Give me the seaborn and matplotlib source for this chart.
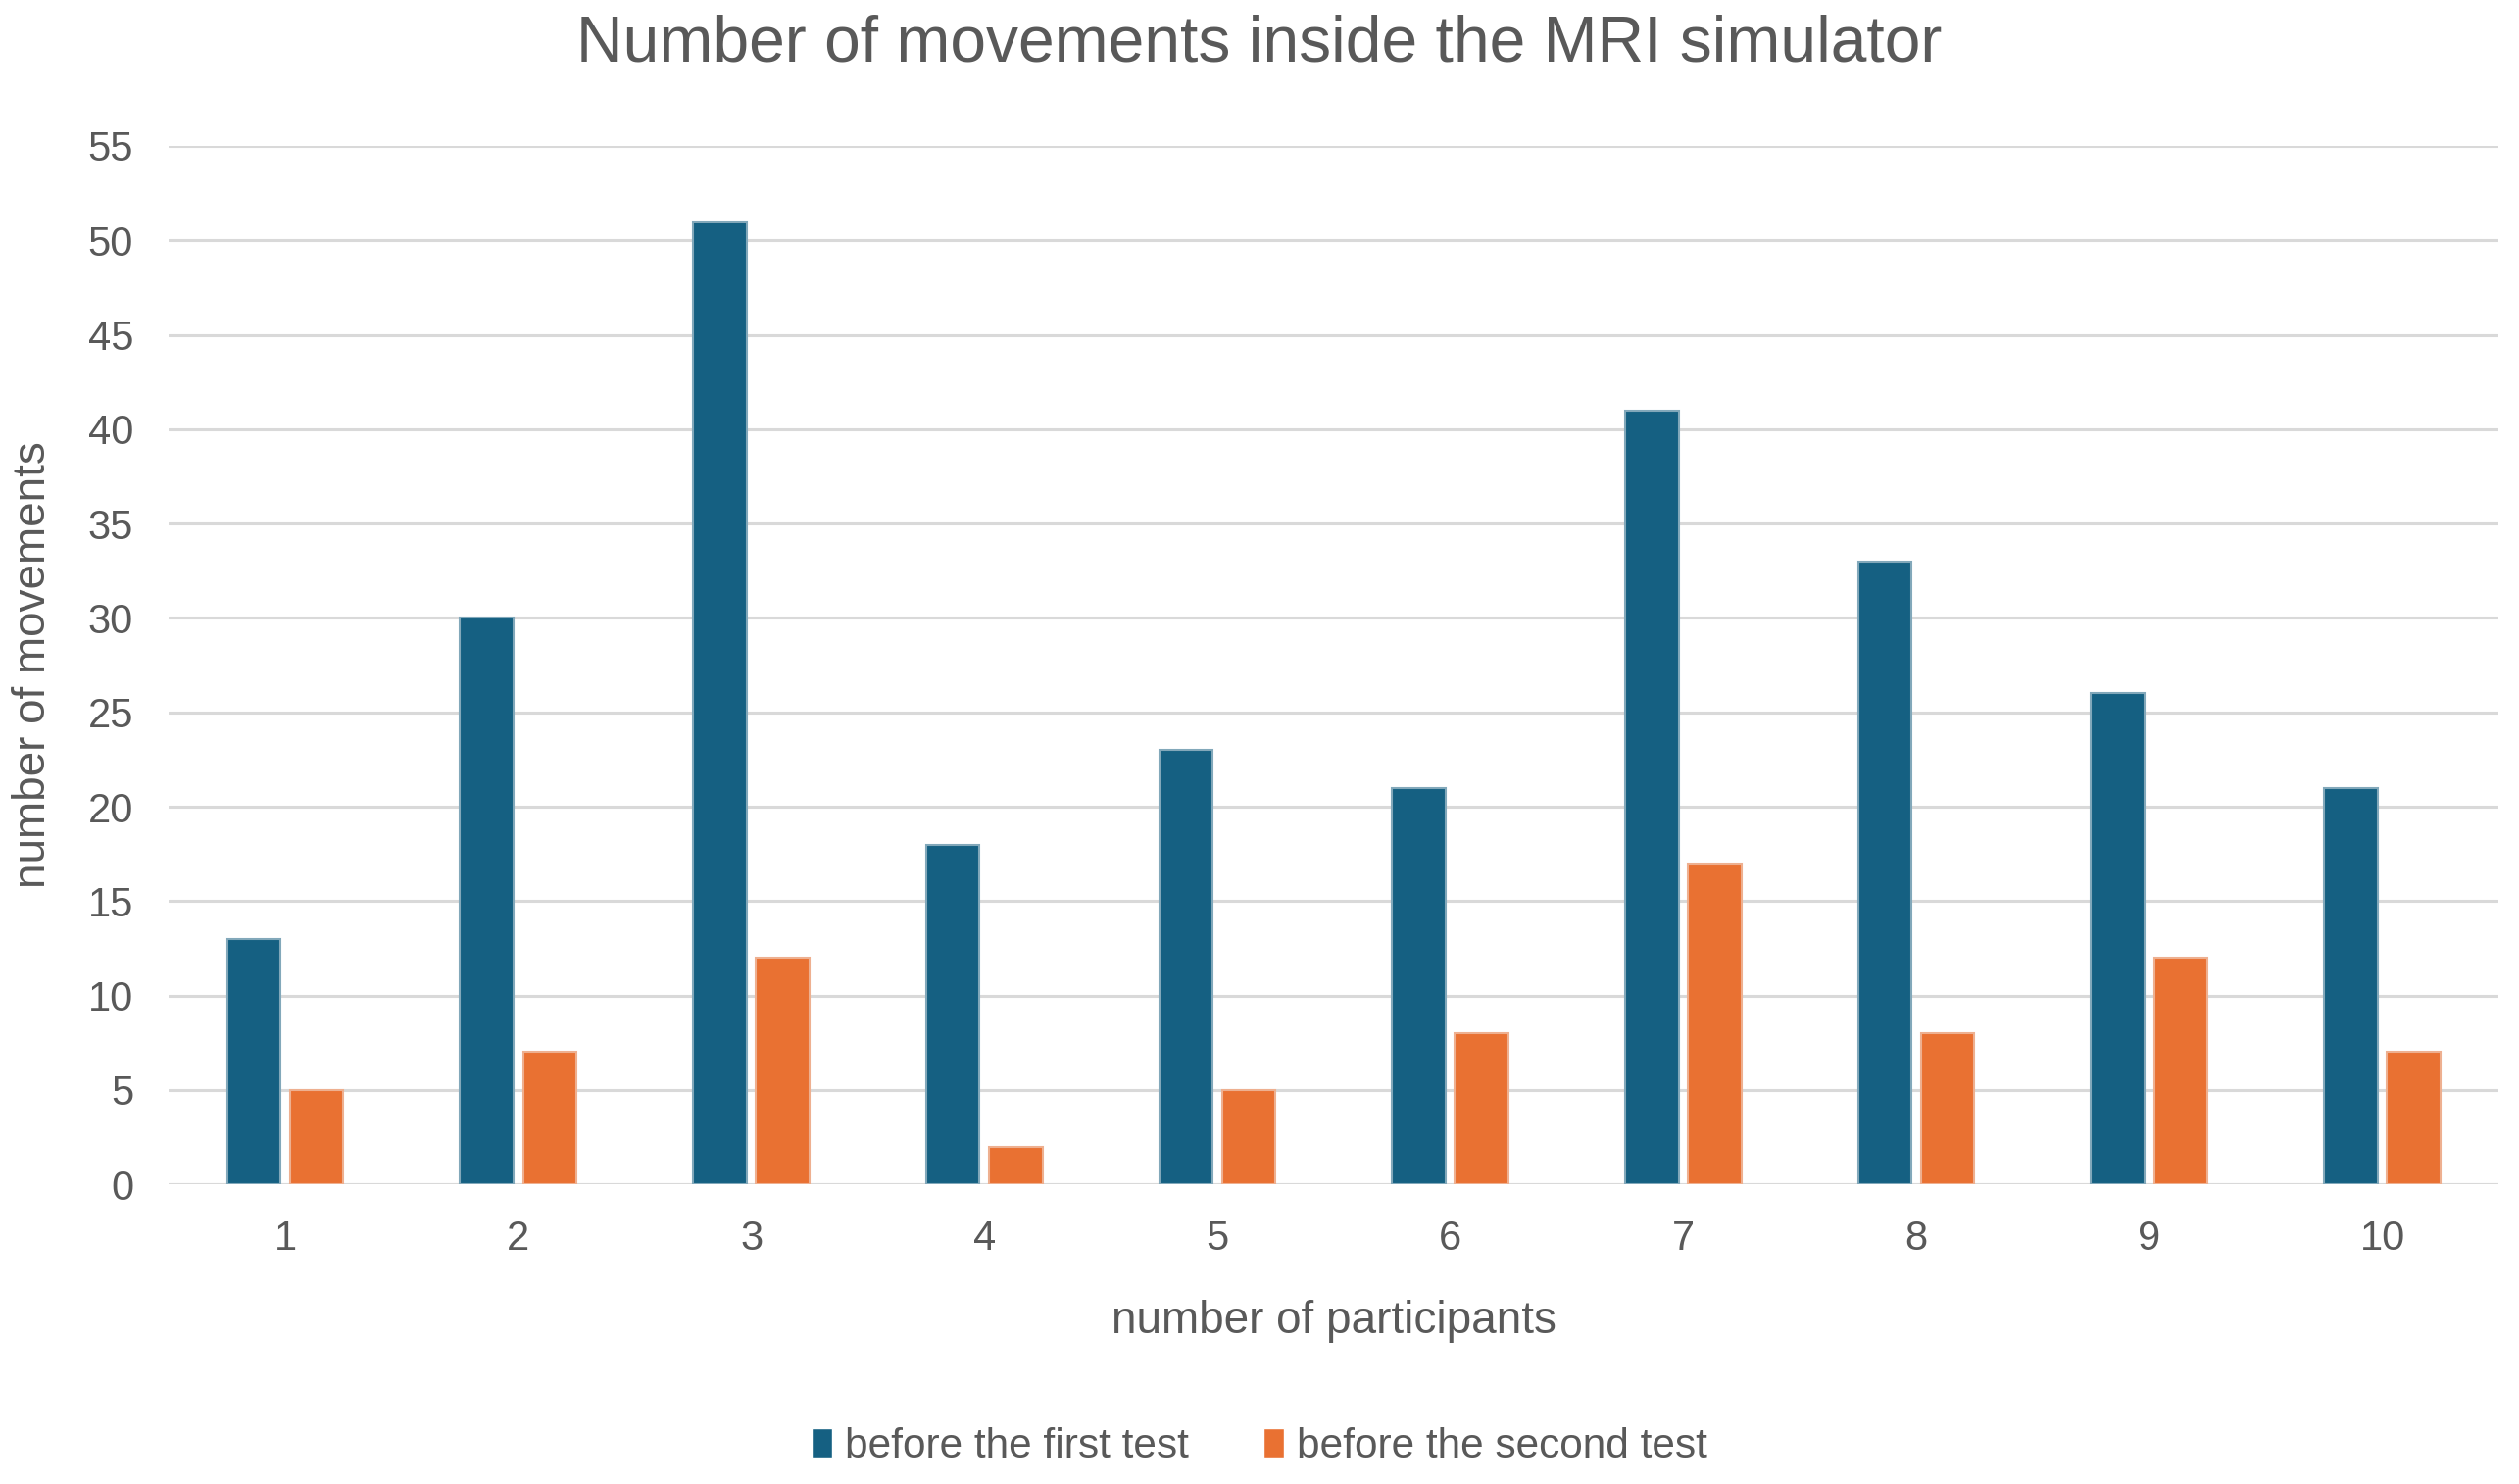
import matplotlib
matplotlib.use("Agg")
import matplotlib.pyplot as plt
import pandas as pd
import seaborn as sns

PARTICIPANTS = ["1", "2", "3", "4", "5", "6", "7", "8", "9", "10"]
BEFORE_FIRST = [13, 30, 51, 18, 23, 21, 41, 33, 26, 21]
BEFORE_SECOND = [5, 7, 12, 2, 5, 8, 17, 8, 12, 7]
SERIES = ["before the first test", "before the second test"]
COLORS = ["#156082", "#E97132"]
TEXT = "#595959"


def build_frame() -> pd.DataFrame:
    rows = []
    for label, values in zip(SERIES, [BEFORE_FIRST, BEFORE_SECOND]):
        for participant, value in zip(PARTICIPANTS, values):
            rows.append({"participant": participant, "movements": value, "series": label})
    return pd.DataFrame(rows)


def main() -> None:
    sns.set_theme(style="white")
    plt.rcParams["font.family"] = ["Liberation Sans", "DejaVu Sans"]

    df = build_frame()
    fig = plt.figure(figsize=(25.7, 15.14), dpi=100)
    ax = fig.add_axes([0.067, 0.202, 0.925, 0.6996])

    sns.barplot(
        data=df, x="participant", y="movements", hue="series",
        order=PARTICIPANTS, hue_order=SERIES, palette=COLORS, saturation=1,
        width=0.54, gap=0.15, ax=ax, legend=True,
    )
    # faint lighter outline like the original export
    for patch, color in zip(ax.patches, [COLORS[0]] * 10 + [COLORS[1]] * 10):
        patch.set_edgecolor(sns.light_palette(color, 3)[1])
        patch.set_linewidth(1.5)

    ax.set_ylim(0, 55)
    ax.set_yticks(range(0, 56, 5))
    ax.set_xlim(-0.5, len(PARTICIPANTS) - 0.5)
    ax.yaxis.grid(True, color="#D9D9D9", linewidth=2.2)
    ax.set_axisbelow(True)
    for side in ["top", "right", "left", "bottom"]:
        ax.spines[side].set_visible(False)
    ax.axhline(0, color="#D9D9D9", linewidth=2.2, zorder=0.5)
    ax.tick_params(axis="both", length=0, labelsize=30, labelcolor=TEXT)
    ax.tick_params(axis="y", pad=26)
    ax.tick_params(axis="x", pad=26)

    ax.set_xlabel("number of participants", fontsize=33, color=TEXT, labelpad=30)
    ax.set_ylabel("number of movements", fontsize=33, color=TEXT)
    ax.yaxis.set_label_coords(-0.049, 0.5)
    fig.text(0.5, 0.970, "Number of movements inside the MRI simulator",
             ha="center", va="center", fontsize=47.5, color=TEXT)

    handles, labels = ax.get_legend_handles_labels()
    ax.legend_.remove()
    fig.legend(
        handles, labels, loc="center", bbox_to_anchor=(0.5, 0.025), ncol=2,
        frameon=False, fontsize=30.5, labelcolor=TEXT, handlelength=0.5,
        handleheight=0.7, handletextpad=0.3, columnspacing=1.8,
    )

    fig.savefig("out.png", dpi=100)
    plt.close(fig)


if __name__ == "__main__":
    main()
